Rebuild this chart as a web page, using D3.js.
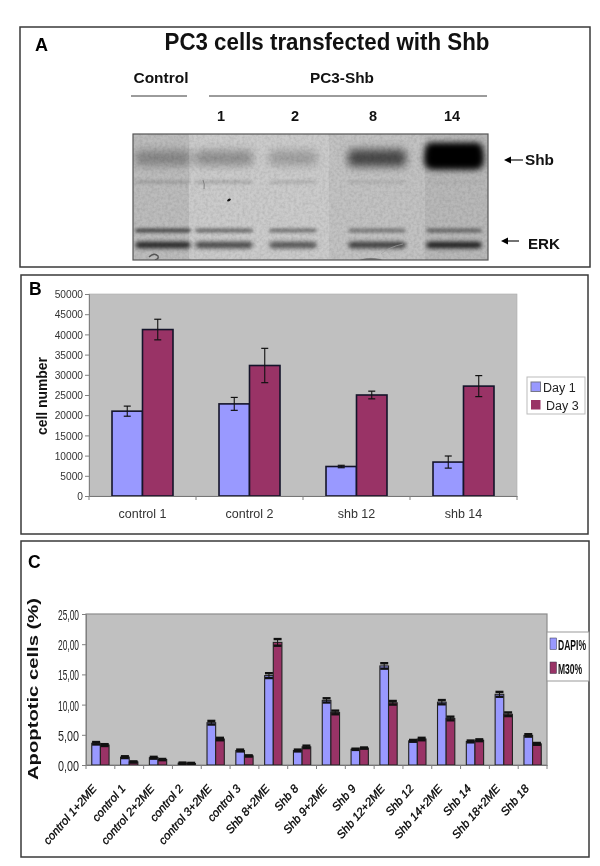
<!DOCTYPE html>
<html><head><meta charset="utf-8">
<script src="https://cdn.jsdelivr.net/npm/d3@7"></script>
<style>
html,body{margin:0;padding:0;background:#fff}
svg{display:block;font-family:"Liberation Sans",Arial,sans-serif;filter:blur(0.45px)}
</style></head><body>
<svg id="c" width="600" height="866"></svg>
<script>
// ---------- data ----------
const lanes = ["Control","1","2","8","14"];
const shbBand = [0.32,0.32,0.24,0.70,1.00];
const faintBand = [0.14,0.15,0.12,0.08,0.03];
const erkUpperBand = [0.55,0.42,0.38,0.34,0.40];
const erkLowerBand = [0.80,0.64,0.58,0.68,0.84];
const laneLabels = ["1","2","8","14"];

const growthCats = ["control 1","control 2","shb 12","shb 14"];
const growthSeries = ["Day 1","Day 3"];
const day1 = [21000,22800,7300,8400];
const day3 = [41200,32300,25000,27200];
const day1Err = [1250,1600,300,1500];
const day3Err = [2550,4250,950,2600];
const growthTicks = [0,5000,10000,15000,20000,25000,30000,35000,40000,45000,50000];

const apoCats = ["control 1+2ME","control 1","control 2+2ME","control 2","control 3+2ME","control 3","Shb 8+2ME","Shb 8","Shb 9+2ME","Shb 9","Shb 12+2ME","Shb 12","Shb 14+2ME","Shb 14","Shb 18+2ME","Shb 18"];
const apoSeries = ["DAPI%","M30%"];
const dapi = [3.6,1.3,1.2,0.3,7.0,2.4,14.8,2.4,10.7,2.6,16.4,4.0,10.4,3.9,11.7,4.9];
const m30 = [3.3,0.5,0.9,0.25,4.3,1.5,20.3,3.0,8.7,2.8,10.3,4.3,7.7,4.1,8.4,3.5];
const dapiErr = [0.2,0.15,0.15,0.1,0.3,0.15,0.4,0.15,0.35,0.1,0.45,0.15,0.35,0.15,0.4,0.2];
const m30Err = [0.15,0.1,0.1,0.1,0.2,0.1,0.55,0.2,0.3,0.1,0.3,0.2,0.3,0.15,0.3,0.15];
const apoTicks = [0,5,10,15,20,25];

// ---------- layout ----------
const svg = d3.select("#c");
const FRAME="#3a3a3a", PLOT="#c0c0c0", BLUE="#9999ff", WINE="#993366", TXT="#333";
const frames=[[20,27,570,240],[21,275,567,259],[21,541,568,316]];
svg.selectAll("rect.frame").data(frames).join("rect").attr("class","frame")
  .attr("x",d=>d[0]).attr("y",d=>d[1]).attr("width",d=>d[2]).attr("height",d=>d[3])
  .attr("fill","#fff").attr("stroke",FRAME).attr("stroke-width",1.5);

function txt(g,s,x,y,o={}){
  const t=g.append("text").attr("x",x).attr("y",y).text(s)
    .attr("font-size",o.size||12).attr("fill",o.fill||"#000")
    .attr("font-weight",o.bold?"bold":null).attr("text-anchor",o.anchor||"start");
  if(o.len) t.attr("textLength",o.len).attr("lengthAdjust","spacingAndGlyphs");
  if(o.italic) t.attr("font-style","italic");
  if(o.rot!=null) t.attr("transform",`rotate(${o.rot},${x},${y})`);
  if(o.sx!=null) t.attr("x",0).attr("y",0).attr("transform",`translate(${x},${y}) scale(${o.sx},1)`);
  return t;
}

// ---------- panel A ----------
const A=svg.append("g");
txt(A,"A",35,51,{size:18,bold:true});
txt(A,"PC3 cells transfected with Shb",327,50,{size:23,bold:true,anchor:"middle",len:325,fill:"#111"});
txt(A,"Control",161,83,{size:15,bold:true,anchor:"middle",len:55,fill:"#111"});
txt(A,"PC3-Shb",342,83,{size:15,bold:true,anchor:"middle",len:64,fill:"#111"});
[[131,187],[209,487]].forEach(d=>A.append("line").attr("x1",d[0]).attr("x2",d[1]).attr("y1",96).attr("y2",96).attr("stroke","#222").attr("stroke-width",0.9));
const labelX=d3.scaleOrdinal().domain(laneLabels).range([221,295,373,452]);
laneLabels.forEach(l=>txt(A,l,labelX(l),121,{size:14.5,bold:true,anchor:"middle",fill:"#111"}));

const defs=svg.append("defs");
defs.append("clipPath").attr("id","blotClip").append("rect").attr("x",133).attr("y",134).attr("width",355).attr("height",126);
[["b1",1.5],["b2",2.0],["b3",4.2],["b4",3.4]].forEach(([id,s])=>
  defs.append("filter").attr("id",id).attr("x","-30%").attr("y","-300%").attr("width","160%").attr("height","700%")
    .append("feGaussianBlur").attr("stdDeviation",s));
const grain=defs.append("filter").attr("id","grain").attr("x","0").attr("y","0").attr("width","100%").attr("height","100%");
grain.append("feTurbulence").attr("type","fractalNoise").attr("baseFrequency","0.35").attr("numOctaves",2).attr("seed",4);
grain.append("feColorMatrix").attr("values","0 0 0 0 0  0 0 0 0 0  0 0 0 0 0  0 0 0 0.9 -0.32");

const blot=A.append("g").attr("clip-path","url(#blotClip)");
[[133,56,"#bcbcbc"],[189,140,"#cbcbcb"],[329,96,"#c2c2c2"],[425,63,"#b8b8b8"]].forEach(d=>
  blot.append("rect").attr("x",d[0]).attr("y",134).attr("width",d[1]).attr("height",126).attr("fill",d[2]));
blot.append("rect").attr("x",133).attr("y",134).attr("width",355).attr("height",126).attr("filter","url(#grain)").attr("opacity",0.2);
const laneX=d3.scaleOrdinal().domain(lanes).range([163,224,293,377,454]);
const laneW=d3.scaleOrdinal().domain(lanes).range([56,58,48,58,56]);
const dark=d3.scaleLinear().domain([0,1]).range([0,1]);
function bands(vals,y,h,hGrow,blur,k){
  blot.append("g").selectAll("rect").data(lanes).join("rect")
    .attr("x",l=>laneX(l)-laneW(l)/2).attr("width",laneW)
    .attr("y",(l,i)=>y-(h+hGrow*vals[i])/2)
    .attr("height",(l,i)=>h+hGrow*vals[i])
    .attr("rx",5)
    .attr("fill","#000").attr("opacity",(l,i)=>dark(vals[i])*k).attr("filter",`url(#${blur})`);
}
bands(shbBand,158,13,6,"b3",0.9);
bands(shbBand.map(v=>v>0.9?v:0),155.5,25,0,"b4",1.0);
bands(faintBand,182,3.5,0,"b1",1.0);
bands(erkUpperBand,230.5,4.5,0,"b1",1.0);
bands(erkLowerBand,245,6.5,0,"b2",1.0);
blot.append("ellipse").attr("cx",229).attr("cy",200).attr("rx",2).attr("ry",1.2).attr("fill","#111").attr("transform","rotate(-30,229,200)");
blot.append("path").attr("d","M203 180q2 4 1 9").attr("fill","none").attr("stroke","#666").attr("stroke-width",0.7);
blot.append("path").attr("d","M149 257q5-5 9-1q1 3-3 4").attr("fill","none").attr("stroke","#555").attr("stroke-width",1.4);
blot.append("ellipse").attr("cx",371).attr("cy",261).attr("rx",12).attr("ry",3).attr("fill","#777");
blot.append("path").attr("d","M381 254q8-7 22-10").attr("fill","none").attr("stroke","#a0a0a0").attr("stroke-width",0.7);
A.append("rect").attr("x",133).attr("y",134).attr("width",355).attr("height",126).attr("fill","none").attr("stroke","#555").attr("stroke-width",1.2);

function arrow(x1,x2,y){
  A.append("line").attr("x1",x1+4).attr("x2",x2).attr("y1",y).attr("y2",y).attr("stroke","#000").attr("stroke-width",1.1);
  A.append("path").attr("d",`M${x1} ${y}l7 -3.5v7z`).attr("fill","#000");
}
arrow(504,523,160); txt(A,"Shb",525,165,{size:15,bold:true,len:29,fill:"#111"});
arrow(501,519,241); txt(A,"ERK",528,249,{size:15,bold:true,len:32,fill:"#111"});

// ---------- shared grouped bar chart ----------
function chart(cfg){
  const g=svg.append("g");
  const x=d3.scaleBand().domain(cfg.cats).range([cfg.l,cfg.r]).paddingInner(cfg.pad).paddingOuter(cfg.pad/2);
  const outer=d3.scaleBand().domain(cfg.cats).range([cfg.l,cfg.r]);
  const y=d3.scaleLinear().domain(cfg.dom).range([cfg.b,cfg.t]);
  const s=d3.scaleBand().domain(cfg.names).range([0,x.bandwidth()]);
  g.append("rect").attr("x",cfg.l).attr("y",cfg.t).attr("width",cfg.r-cfg.l).attr("height",cfg.b-cfg.t)
    .attr("fill",PLOT).attr("stroke",cfg.plotStroke).attr("stroke-width",cfg.plotSW);
  cfg.names.forEach((n,si)=>{
    const col=si?WINE:BLUE, vals=cfg.vals[si], errs=cfg.errs[si];
    const gs=g.append("g");
    gs.selectAll("rect").data(cfg.cats).join("rect")
      .attr("x",c=>x(c)+s(n)).attr("width",s.bandwidth())
      .attr("y",(c,i)=>y(vals[i])).attr("height",(c,i)=>cfg.b-y(vals[i]))
      .attr("fill",col).attr("stroke",cfg.barStroke).attr("stroke-width",cfg.barSW);
    const cx=c=>x(c)+s(n)+s.bandwidth()/2;
    const e=g.append("g").attr("stroke","#111").attr("stroke-width",cfg.errSW);
    e.selectAll("line.v").data(cfg.cats).join("line").attr("class","v")
      .attr("x1",cx).attr("x2",cx).attr("y1",(c,i)=>y(vals[i]+errs[i])).attr("y2",(c,i)=>y(vals[i]-errs[i]));
    [1,-1].forEach(sign=>{
      e.append("g").selectAll("line").data(cfg.cats).join("line")
        .attr("x1",c=>cx(c)-cfg.cap).attr("x2",c=>cx(c)+cfg.cap)
        .attr("y1",(c,i)=>y(vals[i]+sign*errs[i])).attr("y2",(c,i)=>y(vals[i]+sign*errs[i]))
        .attr("stroke-width",cfg.capSW);
    });
  });
  const ya=d3.axisLeft(y).tickValues(cfg.ticks).tickSize(4).tickFormat(cfg.fmt);
  const ag=g.append("g").attr("transform",`translate(${cfg.l},0)`).call(ya);
  ag.select(".domain").attr("stroke","#808080");
  ag.selectAll(".tick line").attr("stroke","#808080");
  ag.selectAll(".tick text").attr("fill",cfg.tickFill).attr("font-size",cfg.tickSize).attr("font-family",null)
    .attr("x",-cfg.tickGap).attr("dy","0.36em");
  if(cfg.tickLen) ag.selectAll(".tick text").attr("textLength",cfg.tickLen).attr("lengthAdjust","spacingAndGlyphs");
  const xa=d3.axisBottom(outer).tickValues([]).tickSize(0);
  g.append("g").attr("transform",`translate(0,${cfg.b})`).call(xa).select(".domain").attr("stroke","#777").attr("stroke-width",1.2);
  const edges=[...cfg.cats.map(c=>outer(c)),cfg.r];
  g.append("g").selectAll("line").data(edges).join("line")
    .attr("x1",d=>d).attr("x2",d=>d).attr("y1",cfg.b).attr("y2",cfg.b+4).attr("stroke","#808080");
  return {g,outer};
}

// ---------- panel B ----------
txt(svg,"B",29,295,{size:17.5,bold:true});
const B=chart({cats:growthCats,names:growthSeries,vals:[day1,day3],errs:[day1Err,day3Err],
  l:89,r:517,t:294,b:496,dom:[0,50000],ticks:growthTicks,pad:0.43,fmt:d3.format("d"),
  plotStroke:"#aaa",plotSW:0.6,barStroke:"#14142a",barSW:1.6,errSW:1.1,cap:3.5,capSW:1.2,
  tickFill:TXT,tickSize:10.2,tickGap:6});
growthCats.forEach(c=>txt(B.g,c,B.outer(c)+B.outer.bandwidth()/2,518,{size:12.5,anchor:"middle",fill:TXT}));
txt(svg,"cell number",47,396,{size:14,bold:true,anchor:"middle",rot:-90,len:78,fill:"#111"});
const legB=svg.append("g");
legB.append("rect").attr("x",527).attr("y",377).attr("width",58).attr("height",37).attr("fill","#fff").attr("stroke","#bbb");
growthSeries.forEach((n,i)=>{
  legB.append("rect").attr("x",531).attr("y",d3.scaleLinear().domain([0,1]).range([382,400])(i)).attr("width",9.5).attr("height",9.5)
    .attr("fill",i?WINE:BLUE).attr("stroke",i?"none":"#778");
  txt(legB,n,i?546:543,i?410:392,{size:12.5,fill:"#222"});
});

// ---------- panel C ----------
txt(svg,"C",28,568,{size:17.5,bold:true});
const C=chart({cats:apoCats,names:apoSeries,vals:[dapi,m30],errs:[dapiErr,m30Err],
  l:86,r:547,t:614,b:765,dom:[0,25],ticks:apoTicks,pad:0.4,fmt:d=>d3.format(".2f")(d).replace(".",","),
  plotStroke:"#8c8c8c",plotSW:1.2,barStroke:"#222",barSW:1.1,errSW:1,cap:4,capSW:2.4,
  tickFill:"#222",tickSize:15,tickGap:7,tickLen:21});
apoCats.forEach(c=>{
  const px=C.outer(c)+C.outer.bandwidth()/2-3, py=789;
  txt(C.g,c,px,py,{size:11.5,italic:true,anchor:"end",rot:-49,fill:"#000"}).attr("stroke","#000").attr("stroke-width",0.3);
});
txt(svg,"Apoptotic cells (%)",38,689,{size:14,bold:true,anchor:"middle",rot:-90,len:182,fill:"#111"});
const legC=svg.append("g");
legC.append("rect").attr("x",547).attr("y",632).attr("width",42).attr("height",49).attr("fill","#fff").attr("stroke","#999");
apoSeries.forEach((n,i)=>{
  const sy=d3.scaleLinear().domain([0,1]).range([638,662])(i);
  legC.append("rect").attr("x",550).attr("y",sy).attr("width",6.5).attr("height",11.5).attr("fill",i?WINE:BLUE).attr("stroke","#334").attr("stroke-width",0.5);
  txt(legC,n,558,sy+12,{size:15,bold:true,sx:0.57,fill:"#111"});
});
</script>
</body></html>
